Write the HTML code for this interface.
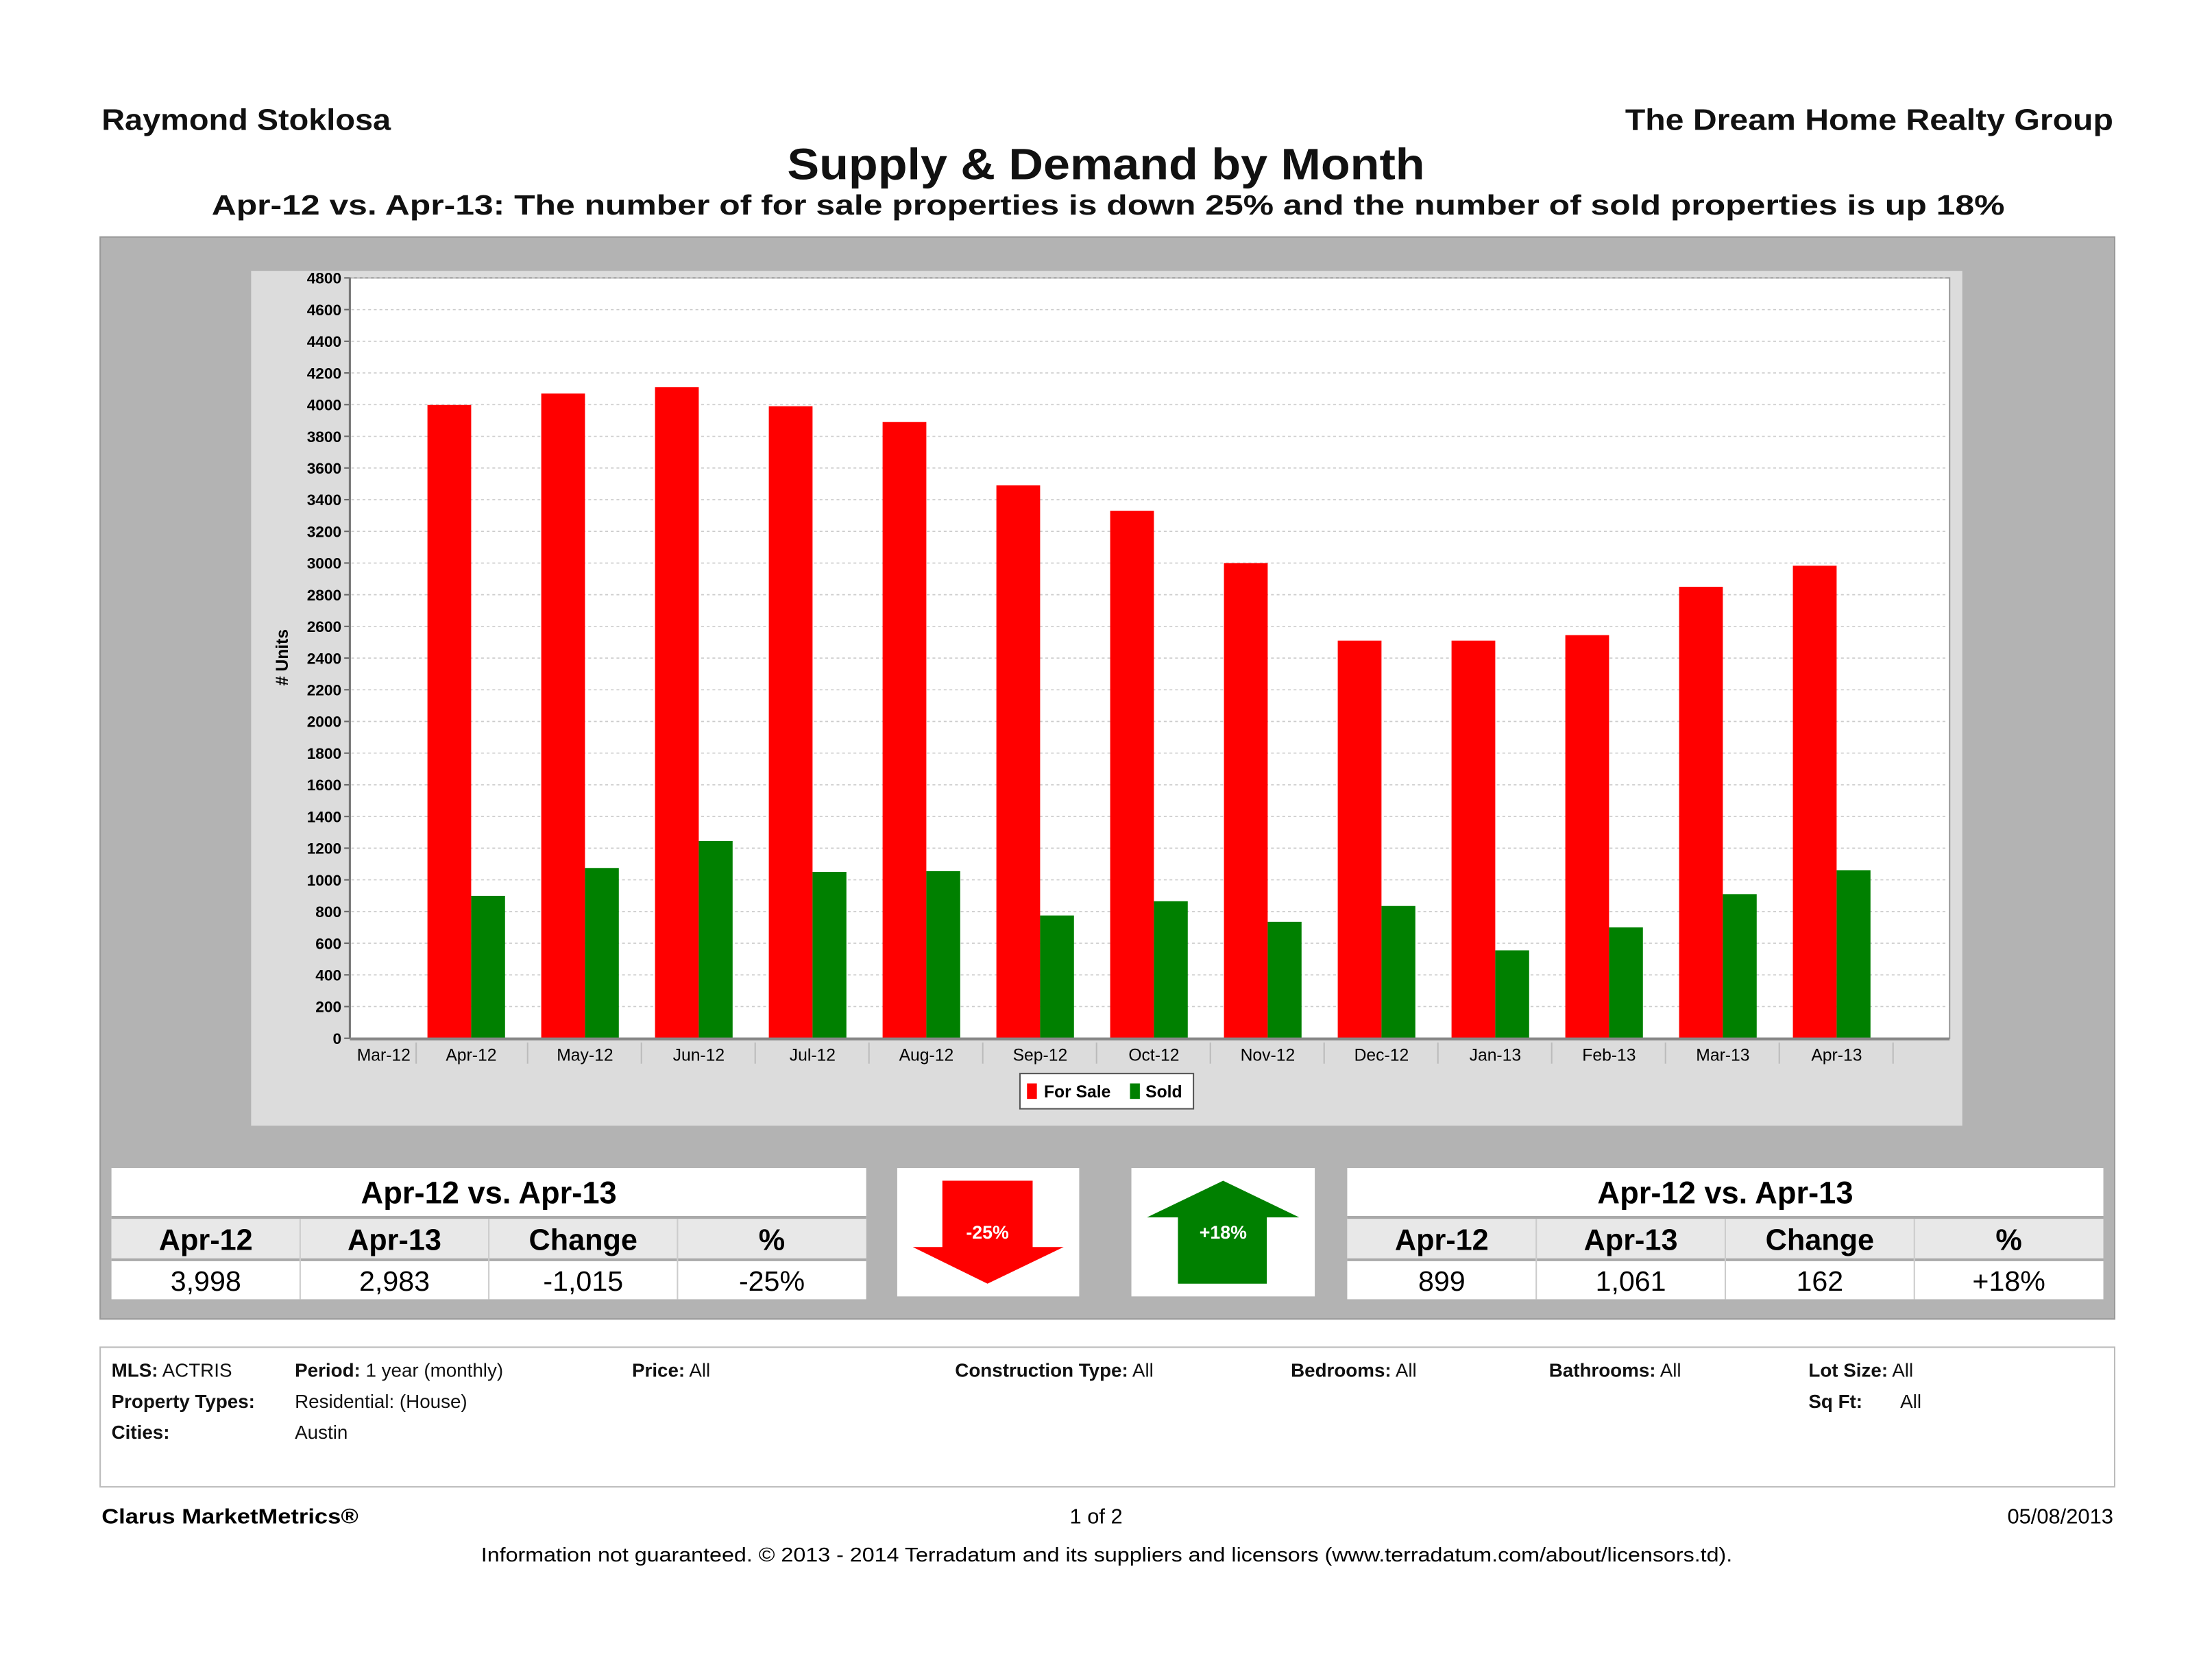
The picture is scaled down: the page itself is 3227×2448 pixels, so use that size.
<!DOCTYPE html>
<html><head><meta charset="utf-8"><style>
html,body{margin:0;padding:0;background:#fff}
svg{display:block;font-family:"Liberation Sans","DejaVu Sans",sans-serif}
</style></head><body>
<svg id="s" width="3227" height="2448" viewBox="0 0 1568 1189.5" xmlns="http://www.w3.org/2000/svg">
<rect width="1568" height="1189.5" fill="#fff"/>
<text x="72" y="92" font-size="21" font-weight="bold" fill="#111" textLength="205" lengthAdjust="spacingAndGlyphs">Raymond Stoklosa</text>
<text x="1152" y="92" font-size="21" font-weight="bold" fill="#111" textLength="346" lengthAdjust="spacingAndGlyphs">The Dream Home Realty Group</text>
<text x="558" y="127" font-size="31" font-weight="bold" fill="#111" textLength="452" lengthAdjust="spacingAndGlyphs">Supply &amp; Demand by Month</text>
<text x="150" y="152" font-size="20" font-weight="bold" fill="#111" textLength="1271" lengthAdjust="spacingAndGlyphs">Apr-12 vs. Apr-13:  The number of for sale properties is down 25% and the number of sold properties is up 18%</text>

<rect x="71" y="168" width="1428" height="767" fill="#b3b3b3" stroke="#999"/>
<rect x="178" y="192" width="1213" height="606" fill="#dcdcdc"/>
<rect x="248" y="197" width="1134" height="539" fill="#fff" stroke="#999"/>
<g id="grid"></g>
<g id="yaxis"></g>
<g id="bars"></g>
<g id="xaxis"></g>
<text transform="translate(204,466) rotate(-90)" font-size="12" font-weight="bold" text-anchor="middle"># Units</text>

<g>
<rect x="723" y="761" width="123" height="25" fill="#fff" stroke="#555"/>
<rect x="728" y="768" width="7" height="11" fill="#f00"/>
<text x="740" y="778" font-size="12" font-weight="bold">For Sale</text>
<rect x="801" y="768" width="7" height="11" fill="#008000"/>
<text x="812" y="778" font-size="12" font-weight="bold">Sold</text>
</g>

<g id="tables"></g>

<g>
<rect x="636" y="828" width="129" height="91" fill="#fff"/>
<polygon points="668,837 732,837 732,884 754,884 700,910 647,884 668,884" fill="#f00"/>
<text x="700" y="878" font-size="13" font-weight="bold" fill="#fff" text-anchor="middle">-25%</text>
</g>
<g>
<rect x="802" y="828" width="130" height="91" fill="#fff"/>
<polygon points="867,837 921,863 898,863 898,910 835,910 835,863 813,863" fill="#008000"/>
<text x="867" y="878" font-size="13" font-weight="bold" fill="#fff" text-anchor="middle">+18%</text>
</g>

<g font-size="13.5" fill="#111">
<rect x="71" y="955" width="1428" height="99" fill="#fff" stroke="#bbb"/>
<text x="79" y="976"><tspan font-weight="bold">MLS:</tspan> ACTRIS</text>
<text x="209" y="976"><tspan font-weight="bold">Period:</tspan>  1 year (monthly)</text>
<text x="448" y="976"><tspan font-weight="bold">Price:</tspan>   All</text>
<text x="677" y="976"><tspan font-weight="bold">Construction Type:</tspan> All</text>
<text x="915" y="976"><tspan font-weight="bold">Bedrooms:</tspan>  All</text>
<text x="1098" y="976"><tspan font-weight="bold">Bathrooms:</tspan> All</text>
<text x="1282" y="976"><tspan font-weight="bold">Lot Size:</tspan> All</text>
<text x="79" y="998" font-weight="bold">Property Types:</text>
<text x="209" y="998">Residential: (House)</text>
<text x="1282" y="998" font-weight="bold">Sq Ft:</text>
<text x="1347" y="998">All</text>
<text x="79" y="1020" font-weight="bold">Cities:</text>
<text x="209" y="1020">Austin</text>
</g>
<text x="72" y="1080" font-size="15" font-weight="bold" textLength="182" lengthAdjust="spacingAndGlyphs">Clarus MarketMetrics®</text>
<text x="777" y="1080" font-size="15" text-anchor="middle">1 of 2</text>
<text x="1498" y="1080" font-size="15" text-anchor="end">05/08/2013</text>
<text x="341" y="1107" font-size="14" textLength="887" lengthAdjust="spacingAndGlyphs">Information not guaranteed.  © 2013 - 2014 Terradatum and its suppliers and licensors (www.terradatum.com/about/licensors.td).</text>
</svg>
<script>
const categories=["Apr-12","May-12","Jun-12","Jul-12","Aug-12","Sep-12","Oct-12","Nov-12","Dec-12","Jan-13","Feb-13","Mar-13","Apr-13"];
const forSale=[3998,4070,4110,3990,3890,3490,3330,3000,2510,2510,2545,2850,2983];
const sold=[899,1075,1245,1050,1055,775,865,735,835,555,700,910,1061];
const yTicks=[0,200,400,600,800,1000,1200,1400,1600,1800,2000,2200,2400,2600,2800,3000,3200,3400,3600,3800,4000,4200,4400,4600,4800];
const NS="http://www.w3.org/2000/svg";
function mk(t,a,p){const e=document.createElementNS(NS,t);for(const k in a)e.setAttribute(k,a[k]);p.appendChild(e);return e;}
const y=v=>736-v/4800*539;
const xc=i=>334+i*80.66;
const grid=document.getElementById('grid'),ya=document.getElementById('yaxis'),bars=document.getElementById('bars'),xa=document.getElementById('xaxis');
yTicks.forEach(t=>{
 if(t>0){const g=mk('line',{x1:249,x2:1381,y1:y(t),y2:y(t),stroke:'#ccc','stroke-dasharray':'2,2','stroke-width':0.8},grid);
 
 }
 mk('line',{x1:244,x2:248,y1:y(t),y2:y(t),stroke:'#666'},ya);
 const l=mk('text',{x:242,y:y(t)+4,'font-size':11,'font-weight':'bold','text-anchor':'end'},ya);
 l.textContent=t;
 
 
});
mk('line',{x1:248,x2:248,y1:197,y2:736,stroke:'#777','stroke-width':1.5},ya);
categories.forEach((c,i)=>{
 const cx=xc(i);
 const r=mk('rect',{x:cx-31,y:y(forSale[i]),width:31,height:736-y(forSale[i]),fill:'#f00'},bars);
 
 
 const g=mk('rect',{x:cx,y:y(sold[i]),width:24,height:736-y(sold[i]),fill:'#008000'},bars);
 
 
});
mk('line',{x1:248,x2:1382,y1:736.5,y2:736.5,stroke:'#888','stroke-width':2},xa);
const labs=["Mar-12"].concat(categories);
labs.forEach((c,j)=>{
 const cx=j===0?272:xc(j-1);
 const t=mk('text',{x:cx,y:752,'font-size':12,'text-anchor':'middle'},xa);
 t.textContent=c;
 
 
 const sx=j===0?295:xc(j-1)+40;
 mk('line',{x1:sx,x2:sx,y1:739,y2:754,stroke:'#bbb'},xa);
});
const tb=document.getElementById('tables');
function table(x0,w,vals,name){
 const g=mk('g',{},tb);
 
 
 mk('rect',{x:x0,y:828,width:w,height:93,fill:'#fff'},g);
 mk('rect',{x:x0,y:863,width:w,height:29,fill:'#e8e8e8'},g);
 mk('line',{x1:x0,x2:x0+w,y1:863,y2:863,stroke:'#aaa','stroke-width':2},g);
 mk('line',{x1:x0,x2:x0+w,y1:893,y2:893,stroke:'#aaa','stroke-width':2},g);
 const h=mk('text',{x:x0+w/2,y:853,'font-size':22,'text-anchor':'middle','font-weight':'bold'},g);h.textContent='Apr-12 vs. Apr-13';
 const hd=['Apr-12','Apr-13','Change','%'];const cw=w/4;
 hd.forEach((s,k)=>{
  const t=mk('text',{x:x0+cw*k+cw/2,y:886,'font-size':21,'text-anchor':'middle','font-weight':'bold'},g);t.textContent=s;
  const v=mk('text',{x:x0+cw*k+cw/2,y:915,'font-size':20,'text-anchor':'middle'},g);v.textContent=vals[k];
  if(k>0)mk('line',{x1:x0+cw*k,x2:x0+cw*k,y1:864,y2:921,stroke:'#ccc'},g);
 });
}
table(79,535,['3,998','2,983','-1,015','-25%'],'for-sale-table');
table(955,536,['899','1,061','162','+18%'],'sold-table');
</script>
</body></html>
